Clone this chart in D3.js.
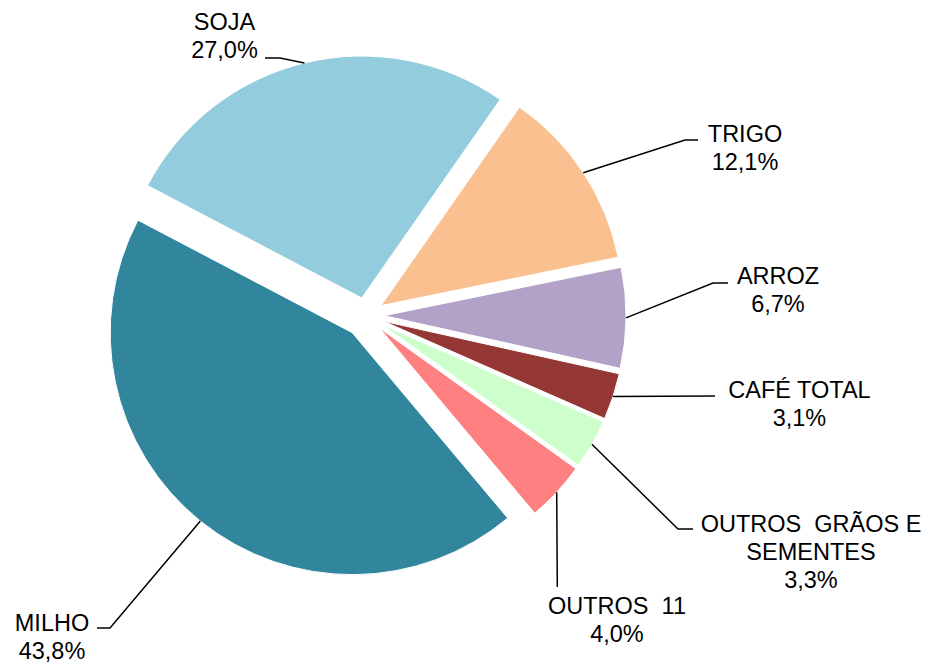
<!DOCTYPE html>
<html>
<head>
<meta charset="utf-8">
<script src="https://cdn.jsdelivr.net/npm/d3@7"></script>
<style>
  html, body { margin: 0; padding: 0; background: #fff; }
  svg { display: block; }
  text { font-family: "Liberation Sans", Arial, sans-serif; font-size: 23.5px; fill: #000; }
</style>
</head>
<body>
<svg id="chart" width="931" height="665"></svg>
<script>
// ---- data ----
const categories = ["TRIGO", "ARROZ", "CAFÉ TOTAL", "OUTROS  GRÃOS E|SEMENTES", "OUTROS  11", "MILHO", "SOJA"];
const values = [12.1, 6.7, 3.1, 3.3, 4.0, 43.8, 27.0];
const valueLabels = ["12,1%", "6,7%", "3,1%", "3,3%", "4,0%", "43,8%", "27,0%"];

// ---- styles / layout ----
const colors = ["#FAC090", "#B3A2C7", "#953735", "#CCFFCC", "#FF8080", "#31859C", "#93CDDD"];
const explode = [18, 18, 18, 18, 18, 22, 18];
// label layout: text centre x, first baseline y, leader elbow [x,y], leader end x
const labelLayout = [
  { x: 745, y: 142, elbow: [685, 140], endX: 698 },
  { x: 778, y: 284, elbow: [713, 283], endX: 728 },
  { x: 799.5, y: 398, elbow: [715, 396], endX: 715 },
  { x: 811, y: 531.5, elbow: [678, 529], endX: 693 },
  { x: 617, y: 614, elbow: [557.3, 587], endX: 557.3 },
  { x: 52, y: 631, elbow: [110, 628], endX: 97 },
  { x: 224.5, y: 30, elbow: [280, 58], endX: 265 }
];

const cx = 366, cy = 315.5, R = 242;
const startDeg = 34.9;
const lineH = 28;

const svg = d3.select("#chart");
const g = svg.append("g").attr("transform", `translate(${cx},${cy})`);

const data = categories.map((c, i) => ({ cat: c, value: values[i], label: valueLabels[i], i }));
const pie = d3.pie().value(d => d.value).sort(null)
  .startAngle(startDeg * Math.PI / 180)
  .endAngle(startDeg * Math.PI / 180 + 2 * Math.PI);
const arcs = pie(data);
const arc = d3.arc().innerRadius(0).outerRadius(R);

function offset(a, d) {
  const m = (a.startAngle + a.endAngle) / 2;
  return [Math.sin(m) * d, -Math.cos(m) * d];
}

g.selectAll("path.slice").data(arcs).enter().append("path")
  .attr("class", "slice")
  .attr("d", arc)
  .attr("fill", (d, i) => colors[i])
  .attr("stroke", "#fff")
  .attr("stroke-width", 1)
  .attr("transform", (d, i) => { const o = offset(d, explode[i]); return `translate(${o[0]},${o[1]})`; });

// leader lines and labels
const lg = svg.append("g");
arcs.forEach((a, i) => {
  const o = offset(a, explode[i]);
  const m = (a.startAngle + a.endAngle) / 2;
  const sx = cx + o[0] + Math.sin(m) * R;
  const sy = cy + o[1] - Math.cos(m) * R;
  const L = labelLayout[i];
  const pts = [[sx, sy], L.elbow, [L.endX, L.elbow[1]]];
  lg.append("path")
    .attr("d", d3.line()(pts))
    .attr("fill", "none")
    .attr("stroke", "#000")
    .attr("stroke-width", 1.5);
  const lines = a.data.cat.split("|").concat([a.data.label]);
  const t = lg.append("text").attr("text-anchor", "middle");
  lines.forEach((s, k) => {
    t.append("tspan").attr("x", L.x).attr("y", L.y + k * lineH)
      .attr("xml:space", "preserve").style("white-space", "pre").text(s);
  });
});
</script>
</body>
</html>
